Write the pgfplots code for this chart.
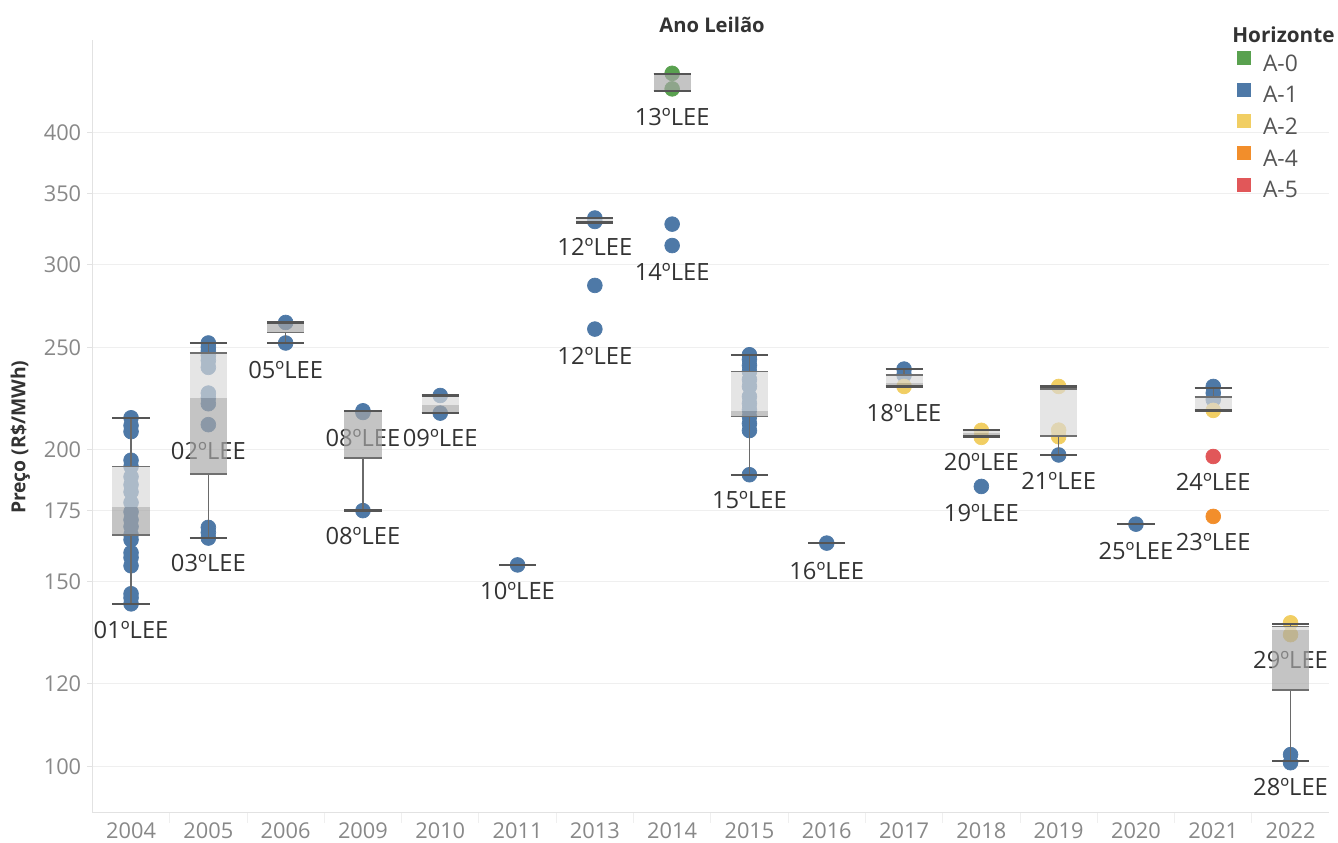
\documentclass[border=0pt]{standalone}
\usepackage{pgfplots}
\pgfplotsset{compat=1.18}
\usepackage{fontspec}
\setmainfont{Open Sans}
\definecolor{cAz}{HTML}{59A14F}
\definecolor{cAa}{HTML}{4E79A7}
\definecolor{cAb}{HTML}{F1CE63}
\definecolor{cAd}{HTML}{F28E2B}
\definecolor{cAe}{HTML}{E15759}
\definecolor{boxlight}{HTML}{D9D9D9}
\definecolor{boxdark}{HTML}{A8A8A8}
\definecolor{labc}{HTML}{333333}
\definecolor{tickc}{HTML}{888888}
\definecolor{legc}{HTML}{555555}
\definecolor{gridc}{HTML}{EFEFEF}
\definecolor{axc}{HTML}{E2E2E2}
\definecolor{capc}{HTML}{555555}
\definecolor{boxc}{HTML}{707070}
\definecolor{whc}{HTML}{6A6A6A}

\newcommand{\bx}[6]{%
  \pgfmathsetmacro\xl{#1-0.24}\pgfmathsetmacro\xr{#1+0.24}%
  \addplot[forget plot, draw=none, fill=boxdark, fill opacity=0.68] coordinates {(\xl,#3) (\xr,#3) (\xr,#4) (\xl,#4)} -- cycle;
  \addplot[forget plot, draw=none, fill=boxlight, fill opacity=0.68] coordinates {(\xl,#4) (\xr,#4) (\xr,#5) (\xl,#5)} -- cycle;
  \addplot[forget plot, draw=whc, line width=0.25mm] coordinates {(#1,#5) (#1,#6)};
  \addplot[forget plot, draw=whc, line width=0.25mm] coordinates {(#1,#2) (#1,#3)};
  \addplot[forget plot, draw=boxc, line width=0.35mm] coordinates {(\xl,#3) (\xr,#3)};
  \addplot[forget plot, draw=boxc, line width=0.35mm] coordinates {(\xl,#5) (\xr,#5)};
  \addplot[forget plot, draw=capc, line width=0.45mm] coordinates {(\xl,#2) (\xr,#2)};
  \addplot[forget plot, draw=capc, line width=0.45mm] coordinates {(\xl,#6) (\xr,#6)};
}

\begin{document}
\begin{tikzpicture}
\path[use as bounding box] (-1.848cm,-0.6cm) rectangle (24.912cm,16.26cm);
\begin{axis}[
  scale only axis, width=24.736cm, height=15.46cm,
  at={(0,0)}, anchor=south west,
  clip=false, clip marker paths=true,
  ymode=log, ymin=90.4, ymax=490,
  xmin=-0.5, xmax=15.5,
  xtick={0,...,15},
  xticklabels={2004,2005,2006,2009,2010,2011,2013,2014,2015,2016,2017,2018,2019,2020,2021,2022},
  minor xtick={0.5,1.5,...,14.5},
  ytick={100,120,150,175,200,250,300,350,400},
  yticklabels={100,120,150,175,200,250,300,350,400},
  /pgf/number format/assume math mode=true,
  axis x line*=bottom, axis y line*=left,
  axis line style={draw=axc, line width=0.2mm, -},
  tick align=outside,
  major tick length=1mm, minor tick length=2mm,
  major x tick style={draw=none},
  minor x tick style={draw=gridc, line width=0.2mm},
  ytick style={draw=axc, line width=0.2mm},
  ymajorgrids=true,
  major grid style={draw=gridc, line width=0.2mm},
  ticklabel style={font=\fontsize{12.4}{14}\selectfont, text=tickc},
  xticklabel style={yshift=0.35mm},
  ylabel={Preço (R\$/MWh)},
  ylabel style={at={(axis description cs:-0.0582,0.486)}, anchor=center, font=\bfseries\fontsize{11}{13}\selectfont, text=labc},
  legend style={at={(axis description cs:0.9254,0.986)}, anchor=north west, draw=none, fill=none,
    inner sep=0pt, font=\fontsize{13}{15}\selectfont, text=legc,
    nodes={inner sep=0pt, text height=2.6mm, text depth=0.5mm},
    row sep=1.8mm, column sep=2.4mm},
  legend cell align=left,
]
% ---- points ----
\addplot[forget plot, only marks, mark=*, mark size=4.2pt, color=cAa] table {
x y
0 214.5
0 210.9
0 208.1
0 195.5
0 192.8
0 188.6
0 185.3
0 182.4
0 178.2
0 174.6
0 171.6
0 169.1
0 166.1
0 164.3
0 159.7
0 158.0
0 155.2
0 146.0
0 144.7
0 142.8
1 252.6
1 250.4
1 248.2
1 245.8
1 243.1
1 239.5
1 226.4
1 224.1
1 221.2
1 211.3
1 168.8
1 166.9
1 164.9
2 264.2
2 252.6
3 217.8
3 217.0
3 175.1
4 225.2
4 216.7
5 155.5
6 332.0
6 329.5
6 286.5
6 260.4
7 327.6
7 312.6
8 246.2
8 243.7
8 240.5
8 237.3
8 233.2
8 229.7
8 224.7
8 221.3
8 218.3
8 215.0
8 211.8
8 208.6
8 189.4
9 163.1
10 238.6
10 235.5
11 184.6
12 197.8
13 170.0
14 229.7
14 226.4
14 223.2
15 102.7
15 100.9
};
\addplot[forget plot, only marks, mark=*, mark size=4.2pt, color=cAz] table {
x y
7 455.5
7 440.3
};
\addplot[forget plot, only marks, mark=*, mark size=4.2pt, color=cAb] table {
x y
10 229.7
11 208.7
11 205.5
12 229.7
12 208.8
12 205.8
14 218.0
15 137.0
15 133.5
};
\addplot[forget plot, only marks, mark=*, mark size=4.2pt, color=cAd] table {
x y
14 172.9
};
\addplot[forget plot, only marks, mark=*, mark size=4.2pt, color=cAe] table {
x y
14 197.1
};
% ---- labels ----
\addplot[forget plot, draw=none, mark=none, nodes near coords, point meta=explicit symbolic,
  nodes near coords style={anchor=center, inner sep=0pt, font=\fontsize{13.5}{16}\selectfont, text=labc}]
  table[meta=lab] {
x y lab
0 134.9 01ºLEE
1 199.6 02ºLEE
1 156.2 03ºLEE
2 238.2 05ºLEE
3 205.3 08ºLEE
4 205.3 09ºLEE
3 165.7 08ºLEE
5 146.9 10ºLEE
6 311.8 12ºLEE
6 245.7 12ºLEE
7 414.3 13ºLEE
7 295.2 14ºLEE
8 179.3 15ºLEE
9 153.5 16ºLEE
10 216.9 18ºLEE
11 194.8 20ºLEE
11 174.3 19ºLEE
12 186.9 21ºLEE
13 160.4 25ºLEE
14 186.5 24ºLEE
14 163.6 23ºLEE
15 126.4 29ºLEE
15 95.7 28ºLEE
};
% ---- boxes: x, low, q1, median, q3, high ----
\bx{0}{142.8}{166.1}{176.3}{192.8}{214.5}
\bx{1}{164.9}{189.7}{224.0}{247.1}{252.6}
\bx{2}{252.6}{258.4}{264.2}{264.2}{264.2}
\bx{3}{175.1}{196.4}{217.8}{217.8}{217.8}
\bx{4}{216.7}{216.7}{220.7}{225.2}{225.2}
\bx{5}{155.5}{155.5}{155.5}{155.5}{155.5}
\bx{6}{328.8}{328.8}{328.8}{332.0}{332.0}
\bx{7}{438.5}{438.5}{455.1}{455.1}{455.1}
\bx{8}{189.4}{215.1}{217.5}{237.4}{246.2}
\bx{9}{163.1}{163.1}{163.1}{163.1}{163.1}
\bx{10}{229.7}{229.7}{231.5}{235.7}{238.6}
\bx{11}{205.9}{205.9}{207.5}{209.0}{209.0}
\bx{12}{197.8}{206.2}{206.2}{228.4}{229.7}
\bx{13}{170.0}{170.0}{170.0}{170.0}{170.0}
\bx{14}{218.0}{218.0}{218.0}{224.4}{228.9}
\bx{15}{101.3}{118.3}{134.9}{135.9}{136.6}
% ---- legend ----
\addlegendimage{legend image code/.code={\fill[cAz] (0mm,0.3mm) rectangle (2.6mm,2.9mm);}}
\addlegendentry{A-0}
\addlegendimage{legend image code/.code={\fill[cAa] (0mm,0.3mm) rectangle (2.6mm,2.9mm);}}
\addlegendentry{A-1}
\addlegendimage{legend image code/.code={\fill[cAb] (0mm,0.3mm) rectangle (2.6mm,2.9mm);}}
\addlegendentry{A-2}
\addlegendimage{legend image code/.code={\fill[cAd] (0mm,0.3mm) rectangle (2.6mm,2.9mm);}}
\addlegendentry{A-4}
\addlegendimage{legend image code/.code={\fill[cAe] (0mm,0.3mm) rectangle (2.6mm,2.9mm);}}
\addlegendentry{A-5}
\node[anchor=west, inner sep=0pt, font=\bfseries\fontsize{11.8}{14}\selectfont, text=labc] at (axis description cs:0.9214,1.0065) {Horizonte};
\node[anchor=center, inner sep=0pt, font=\bfseries\fontsize{11.5}{14}\selectfont, text=labc] at (axis description cs:0.501,1.019) {Ano Leilão};
\end{axis}
\end{tikzpicture}
\end{document}
